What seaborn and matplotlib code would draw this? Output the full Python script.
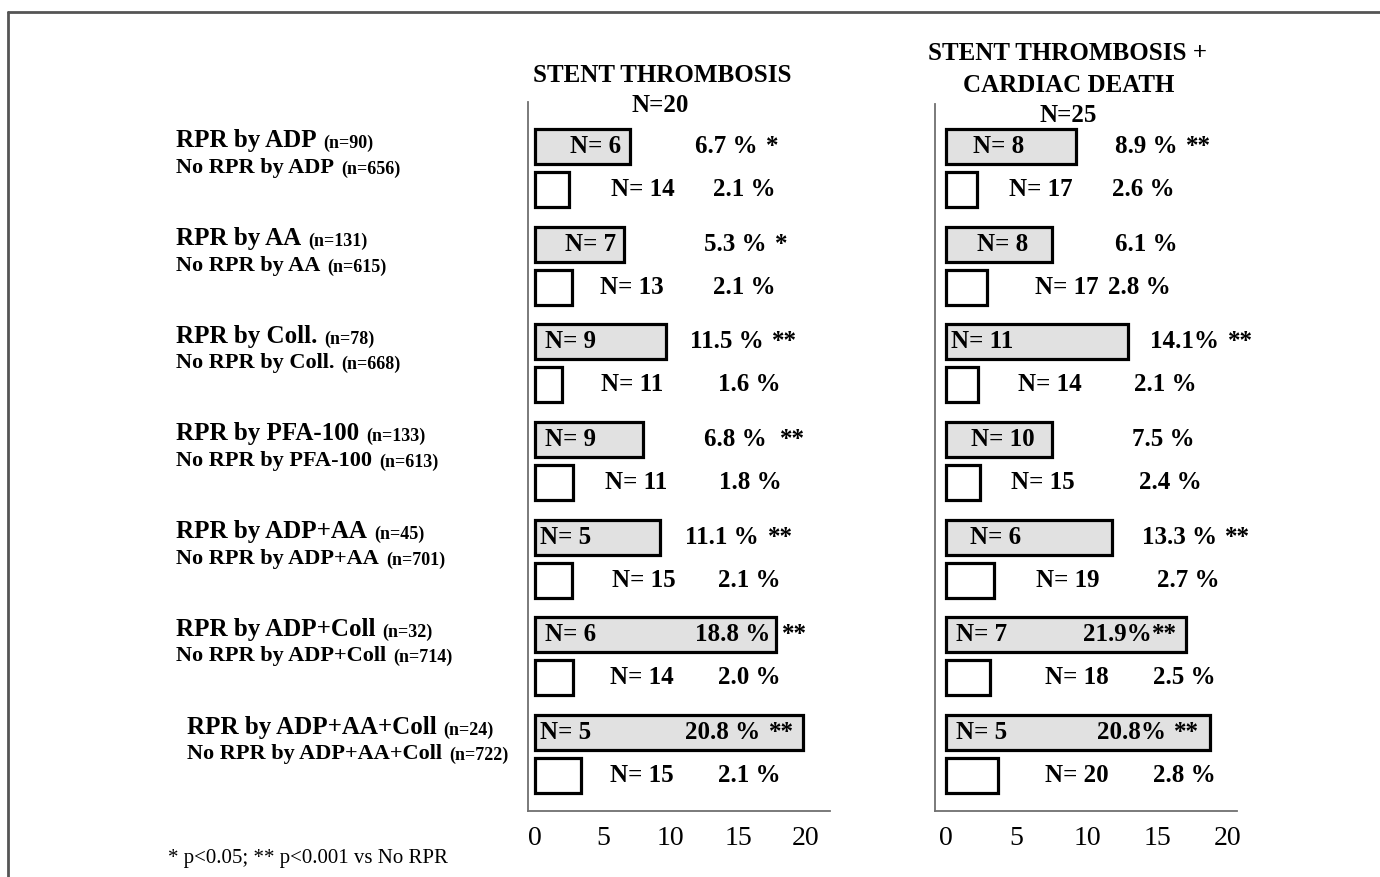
import numpy as np
import pandas as pd
import matplotlib
matplotlib.use("Agg")
import matplotlib.pyplot as plt
import seaborn as sns
from matplotlib.lines import Line2D
from matplotlib import transforms

# ---------------- data ----------------
groups = ["ADP", "AA", "Coll.", "PFA-100", "ADP+AA", "ADP+Coll", "ADP+AA+Coll"]
n_rpr = [90, 131, 78, 133, 45, 32, 24]
n_norpr = [656, 615, 668, 613, 701, 714, 722]

# Stent thrombosis (N=20)
st_events_rpr = [6, 7, 9, 9, 5, 6, 5]
st_events_no = [14, 13, 11, 11, 15, 14, 15]
st_pct_rpr = [6.7, 5.3, 11.5, 6.8, 11.1, 18.8, 20.8]
st_pct_no = [2.1, 2.1, 1.6, 1.8, 2.1, 2.0, 2.1]
st_sig = ["*", "*", "**", "**", "**", "**", "**"]
st_bar_rpr = [7.0, 6.6, 9.7, 8.0, 9.2, 17.8, 19.8]
st_bar_no = [2.5, 2.7, 2.0, 2.8, 2.7, 2.8, 3.4]

# Stent thrombosis + cardiac death (N=25)
cd_events_rpr = [8, 8, 11, 10, 6, 7, 5]
cd_events_no = [17, 17, 14, 15, 19, 18, 20]
cd_pct_rpr = [8.9, 6.1, 14.1, 7.5, 13.3, 21.9, 20.8]
cd_pct_no = [2.6, 2.8, 2.1, 2.4, 2.7, 2.5, 2.8]
cd_sig = ["**", "", "**", "", "**", "**", "**"]
cd_bar_rpr = [9.2, 7.5, 12.9, 7.5, 11.8, 17.0, 18.7]
cd_bar_no = [2.2, 2.9, 2.3, 2.4, 3.4, 3.1, 3.7]

xticks = [0, 5, 10, 15, 20]

# ---------------- label placement (style) ----------------
st_pos = dict(
    n_rpr=[2.6, 2.2, 0.75, 0.75, 0.35, 0.75, 0.35],
    pct_rpr=[11.8, 12.5, 11.4, 12.5, 11.1, 11.8, 11.1],
    pct_sep=[" ", " ", " ", " ", " ", " ", " "],
    sig_gap=[6, 6, 6, 9, 6, 6, 6],
    n_no=[5.6, 4.8, 4.9, 5.2, 5.7, 5.5, 5.5],
    pct_no=[13.1, 13.1, 13.5, 13.6, 13.5, 13.5, 13.5],
    sig_x={5: 18.2},
)
cd_pos = dict(
    n_rpr=[1.9, 2.2, 0.35, 1.8, 1.7, 0.7, 0.7],
    pct_rpr=[12.0, 12.0, 14.5, 13.2, 13.9, 9.7, 10.7],
    pct_sep=[" ", " ", "", " ", " ", "", ""],
    sig_gap=[6, 6, 6, 6, 6, 0.5, 6],
    n_no=[4.5, 6.3, 5.1, 4.6, 6.4, 7.0, 7.0],
    pct_no=[11.8, 11.5, 13.3, 13.7, 15.0, 14.7, 14.7],
    sig_x={},
)

sns.set_theme(style="white")
plt.rcParams["font.family"] = ["Liberation Serif", "DejaVu Serif"]

W, H = 1380, 877
fig = plt.figure(figsize=(W / 100, H / 100), dpi=100)


def fx(px):
    return px / W


def fy(py):
    return 1 - py / H


ax1 = fig.add_axes([fx(528), fy(811), fx(830) - fx(528), fy(102) - fy(811)])
ax2 = fig.add_axes([fx(935), fy(811), fx(1237) - fx(935), fy(104) - fy(811)])

BOLD = dict(fontweight="bold", color="black")


def panel(ax, bar_rpr, bar_no, ev_rpr, ev_no, pct_rpr, pct_no, sig, pos, xlim, ylim):
    df = pd.DataFrame({
        "group": groups * 2,
        "status": ["RPR"] * len(groups) + ["No RPR"] * len(groups),
        "value": list(bar_rpr) + list(bar_no),
    })
    sns.barplot(data=df, y="group", x="value", hue="status", order=groups,
                hue_order=["RPR", "No RPR"],
                palette={"RPR": "#e1e1e1", "No RPR": "white"},
                orient="h", width=0.88, gap=0.19, saturation=1,
                edgecolor="black", linewidth=2.3, errorbar=None,
                legend=False, ax=ax)
    ax.set_xlim(*xlim)
    ax.set_ylim(*ylim)
    ax.set_xticks(xticks)
    ax.set_xticklabels([str(t) for t in xticks])
    ax.tick_params(axis="x", length=0, pad=11, labelsize=20, labelcolor="black")
    ax.set_yticks([])
    ax.set_xlabel("")
    ax.set_ylabel("")
    for s in ["top", "right"]:
        ax.spines[s].set_visible(False)
    for s in ["left", "bottom"]:
        ax.spines[s].set_color("#707070")
        ax.spines[s].set_linewidth(1.3)
    for i in range(len(groups)):
        yr, yn = i - 0.22, i + 0.22
        ax.text(pos["n_rpr"][i], yr, f"N= {ev_rpr[i]}", ha="left", va="center",
                fontsize=18, **BOLD)
        t = ax.text(pos["pct_rpr"][i], yr, f"{pct_rpr[i]:.1f}{pos['pct_sep'][i]}%",
                    ha="left", va="center", fontsize=18, **BOLD)
        if sig[i]:
            if i in pos["sig_x"]:
                ax.text(pos["sig_x"][i], yr, sig[i], ha="left", va="center",
                        fontsize=18, **BOLD)
            else:
                ax.annotate(sig[i], xy=(1, 0.5), xycoords=t,
                            xytext=(pos["sig_gap"][i], 0),
                            textcoords="offset points", ha="left", va="center",
                            fontsize=18, **BOLD)
        ax.text(pos["n_no"][i], yn, f"N= {ev_no[i]}", ha="left", va="center",
                fontsize=18, **BOLD)
        ax.text(pos["pct_no"][i], yn, f"{pct_no[i]:.1f} %", ha="left",
                va="center", fontsize=18, **BOLD)


panel(ax1, st_bar_rpr, st_bar_no, st_events_rpr, st_events_no, st_pct_rpr,
      st_pct_no, st_sig, st_pos, (-0.52, 21.77), (6.583, -0.675))
panel(ax2, cd_bar_rpr, cd_bar_no, cd_events_rpr, cd_events_no, cd_pct_rpr,
      cd_pct_no, cd_sig, cd_pos, (-0.78, 20.64), (6.583, -0.655))

# row labels on the left
trans = transforms.blended_transform_factory(fig.transFigure, ax1.transData)
for i, g in enumerate(groups):
    x0 = fx(187) if i == len(groups) - 1 else fx(176)
    t1 = ax1.text(x0, i - 0.21, f"RPR by {g}", transform=trans, ha="left",
                  va="baseline", fontsize=18, **BOLD)
    ax1.annotate(f"(n={n_rpr[i]})", xy=(1, 0), xycoords=t1, xytext=(5, 0),
                 textcoords="offset points", ha="left", va="bottom",
                 fontsize=13, **BOLD)
    t2 = ax1.text(x0, i + 0.05, f"No RPR by {g}", transform=trans, ha="left",
                  va="baseline", fontsize=16, **BOLD)
    ax1.annotate(f"(n={n_norpr[i]})", xy=(1, 0), xycoords=t2, xytext=(5, 0),
                 textcoords="offset points", ha="left", va="bottom",
                 fontsize=13, **BOLD)

# titles
fig.text(fx(662), fy(75), "STENT THROMBOSIS", ha="center", va="center",
         fontsize=18, **BOLD)
fig.text(fx(660), fy(105), "N=20", ha="center", va="center", fontsize=18, **BOLD)
fig.text(fx(1068), fy(54), "STENT THROMBOSIS +", ha="center", va="center",
         fontsize=18, **BOLD)
fig.text(fx(1069), fy(85), "CARDIAC DEATH", ha="center", va="center",
         fontsize=18, **BOLD)
fig.text(fx(1068), fy(115), "N=25", ha="center", va="center", fontsize=18, **BOLD)

# footnote
fig.text(fx(168), fy(859), "* p<0.05; ** p<0.001 vs No RPR", ha="left",
         va="center", fontsize=15, color="black")

# frame
fig.add_artist(Line2D([fx(8), 1.0], [fy(12), fy(12)], transform=fig.transFigure,
                      color="#555555", lw=2))
fig.add_artist(Line2D([fx(8), fx(8)], [fy(12), 0.0], transform=fig.transFigure,
                      color="#555555", lw=2))

fig.savefig("out.png", dpi=100)
